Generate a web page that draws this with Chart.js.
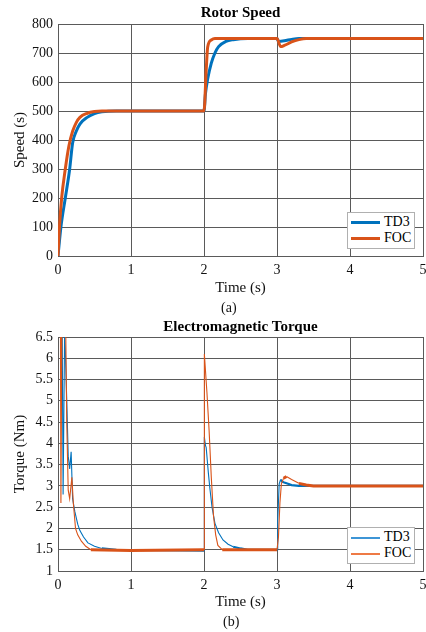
<!DOCTYPE html>
<html>
<head>
<meta charset="utf-8">
<script src="https://cdn.jsdelivr.net/npm/chart.js@4/dist/chart.umd.min.js"></script>
<style>
  body { margin: 0; background: #fff; }
  #page { position: relative; width: 426px; height: 632px; font-family: "Liberation Serif", "DejaVu Serif", serif; }
  .box { position: absolute; left: 0; width: 426px; height: 316px; }
  .cap { position: absolute; font-size: 14px; color: #111; }
  .legend { position: absolute; left: 347px; width: 66px; background: #fff; border: 1px solid #b0b0b0; font-size: 14px; }
  .legend div { position: relative; height: 16px; line-height: 16px; padding-left: 36px; }
  .legend span { position: absolute; left: 3px; top: 8px; width: 29px; }
</style>
</head>
<body>
<div id="page">
  <div class="box" style="top:0"><canvas id="speedChart"></canvas></div>
  <div class="box" style="top:316px"><canvas id="torqueChart"></canvas></div>
  <div class="cap" style="left:221px; top:300px">(a)</div>
  <div class="cap" style="left:223px; top:614px">(b)</div>
  <div class="legend" style="top:212px; height:34px; padding-top:1px">
    <div><span style="border-top:3px solid #0072BD; margin-top:-1px"></span>TD3</div>
    <div><span style="border-top:3px solid #D95319; margin-top:-1px"></span>FOC</div>
  </div>
  <div class="legend" style="top:527px; height:34px; padding-top:1px">
    <div><span style="border-top:2px solid #3D95D6"></span>TD3</div>
    <div><span style="border-top:2px solid #EE7A45"></span>FOC</div>
  </div>
</div>
<script>
// rotor speed
const speedTimeTD3 = [0, 0.04, 0.1, 0.16, 0.2, 0.25, 0.3, 0.4, 0.5, 0.6, 0.8, 2.0, 2.02, 2.05, 2.1, 2.15, 2.2, 2.3, 2.4, 2.6, 3.0, 3.02, 3.1, 3.2, 3.3, 5.0];
const speedTD3     = [0, 100, 200, 300, 390, 430, 455, 478, 491, 497, 500, 500, 560, 610, 665, 700, 722, 740, 746, 750, 750, 740, 742, 747, 750, 750];
const speedTimeFOC = [0, 0.02, 0.05, 0.1, 0.15, 0.2, 0.25, 0.3, 0.4, 0.5, 0.6, 2.0, 2.03, 2.05, 2.1, 2.15, 3.0, 3.05, 3.1, 3.2, 3.3, 3.4, 5.0];
const speedFOC     = [0, 100, 200, 300, 380, 430, 460, 478, 492, 498, 500, 500, 640, 720, 745, 750, 750, 722, 726, 738, 746, 750, 750];

// electromagnetic torque (9 = off the top of the axis)
const torqueTimeTD3 = [0, 0.05, 0.07, 0.09, 0.1, 0.12, 0.14, 0.16, 0.18, 0.2, 0.23, 0.27, 0.3, 0.35, 0.41, 0.5, 0.6, 0.8, 2.0,
                       2.005, 2.02, 2.03, 2.06, 2.08, 2.11, 2.15, 2.2, 2.26, 2.33, 2.4, 2.5, 2.6, 3.0,
                       3.01, 3.03, 3.05, 3.07, 3.1, 3.15, 3.2, 3.3, 5.0];
const torqueTD3     = [9, 9, 2.8, 6.5, 6.2, 5.0, 3.7, 3.4, 3.8, 2.7, 2.4, 2.1, 1.95, 1.8, 1.66, 1.58, 1.53, 1.5, 1.48,
                       4.15, 3.95, 3.9, 3.3, 2.95, 2.5, 2.12, 1.9, 1.73, 1.63, 1.57, 1.53, 1.5, 1.5,
                       2.2, 3.05, 3.15, 3.1, 3.08, 3.05, 3.02, 3.0, 3.0];
const torqueTimeFOC = [0, 0.03, 0.04, 0.06, 0.09, 0.12, 0.14, 0.16, 0.19, 0.21, 0.24, 0.27, 0.32, 0.38, 0.45, 1.0, 2.0,
                       2.005, 2.04, 2.07, 2.1, 2.13, 2.16, 2.19, 2.25, 3.0,
                       3.02, 3.04, 3.06, 3.09, 3.13, 3.2, 3.3, 3.4, 3.5, 5.0];
const torqueFOC     = [9, 9, 2.6, 9, 9, 4.5, 2.9, 2.7, 3.2, 2.6, 2.0, 1.85, 1.7, 1.58, 1.5, 1.48, 1.5,
                       6.1, 5.2, 4.3, 3.2, 2.3, 1.85, 1.6, 1.5, 1.5,
                       1.8, 2.6, 3.05, 3.18, 3.22, 3.15, 3.06, 3.02, 3.0, 3.0];

const xTicks = [0, 1, 2, 3, 4, 5];

const BLUE = '#0072BD', ORANGE = '#D95319';
const FONT = '"Liberation Serif", "DejaVu Serif", serif';
const GRID = '#5a5a5a';

function pts(t, v) { return t.map((x, i) => ({ x: x, y: v[i] })); }

function makeChart(id, cfg) {
    return new Chart(document.getElementById(id), {
        type: 'line',
        data: { datasets: cfg.datasets },
        options: {
            responsive: true, maintainAspectRatio: false, animation: false,
            layout: { padding: { right: 3 } },
            elements: { point: { radius: 0 }, line: { cubicInterpolationMode: 'monotone' } },
            plugins: {
                legend: { display: false },
                tooltip: { enabled: false },
                title: {
                    display: true, text: cfg.title, fullSize: false, color: '#000',
                    font: { family: FONT, size: 15, weight: 'bold' },
                    padding: cfg.titlePad
                }
            },
            scales: {
                x: {
                    type: 'linear', min: 0, max: 5,
                    afterBuildTicks: s => { s.ticks = xTicks.map(v => ({ value: v })); },
                    afterFit: s => { s.height = cfg.xHeight; s.paddingLeft = 0; s.paddingRight = 0; },
                    grid: { color: GRID, lineWidth: 1, drawTicks: false },
                    border: { color: GRID },
                    ticks: { color: '#111', padding: 6, font: { family: FONT, size: 14 }, callback: v => String(v) },
                    title: { display: true, text: 'Time (s)', color: '#111', font: { family: FONT, size: 15 }, padding: { top: 0, bottom: cfg.xTitleBottom } }
                },
                y: {
                    min: cfg.yMin, max: cfg.yMax,
                    afterBuildTicks: s => { s.ticks = cfg.yTicks.map(v => ({ value: v })); },
                    afterFit: s => { s.width = 58; },
                    grid: { color: GRID, lineWidth: 1, drawTicks: false },
                    border: { color: GRID },
                    ticks: { color: '#111', padding: 5, font: { family: FONT, size: 14 }, callback: v => String(v) },
                    title: { display: true, text: cfg.yTitle, color: '#111', font: { family: FONT, size: 15 }, padding: { top: 11, bottom: 0 } }
                }
            }
        }
    });
}

const speedTicks = [0, 100, 200, 300, 400, 500, 600, 700, 800];
makeChart('speedChart', {
    title: 'Rotor Speed', titlePad: { top: 4, bottom: 2 },
    xHeight: 60, xTitleBottom: 19,
    yMin: 0, yMax: 800, yTicks: speedTicks, yTitle: 'Speed (s)',
    datasets: [
        { label: 'TD3', data: pts(speedTimeTD3, speedTD3), borderColor: BLUE, borderWidth: 3, order: 1 },
        { label: 'FOC', data: pts(speedTimeFOC, speedFOC), borderColor: ORANGE, borderWidth: 3, order: 0 }
    ]
});

const torqueTicks = [1, 1.5, 2, 2.5, 3, 3.5, 4, 4.5, 5, 5.5, 6, 6.5];
const thinOnSteps = w => ({ borderWidth: c => Math.abs(c.p1.parsed.y - c.p0.parsed.y) < 0.05 ? w : 1.1 });
makeChart('torqueChart', {
    title: 'Electromagnetic Torque', titlePad: { top: 2, bottom: 1 },
    xHeight: 61, xTitleBottom: 21,
    yMin: 1, yMax: 6.5, yTicks: torqueTicks, yTitle: 'Torque (Nm)',
    datasets: [
        { label: 'TD3', data: pts(torqueTimeTD3, torqueTD3), borderColor: BLUE, borderWidth: 1.2, segment: thinOnSteps(2.2), cubicInterpolationMode: 'default', tension: 0, order: 1 },
        { label: 'FOC', data: pts(torqueTimeFOC, torqueFOC), borderColor: ORANGE, borderWidth: 1.2, segment: thinOnSteps(3), cubicInterpolationMode: 'default', tension: 0, order: 0 }
    ]
});
</script>
</body>
</html>
